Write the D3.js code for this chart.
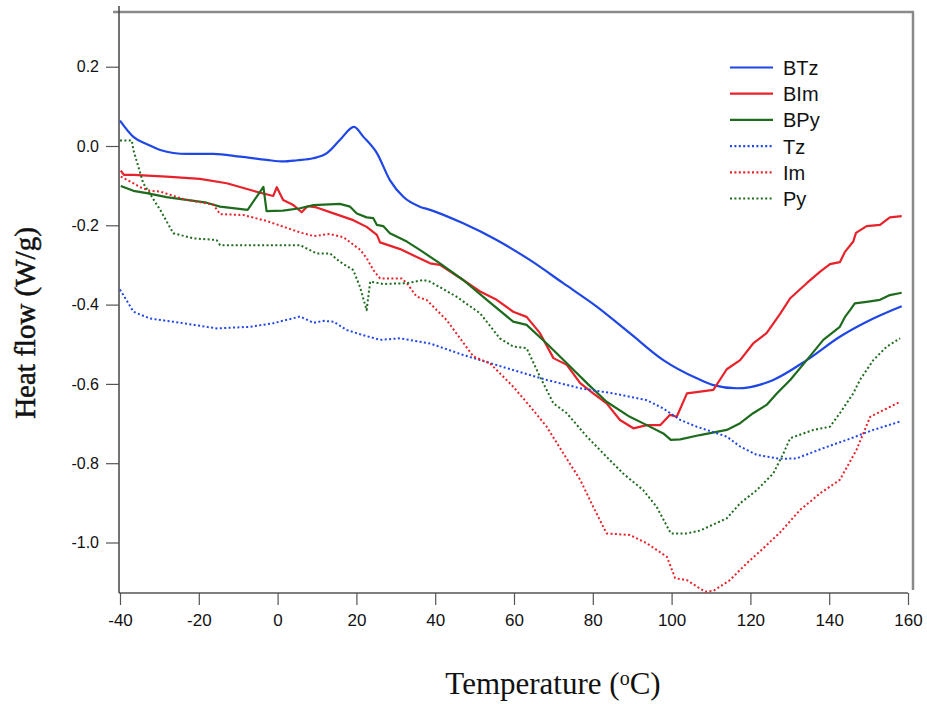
<!DOCTYPE html>
<html>
<head>
<meta charset="utf-8">
<script src="https://cdn.jsdelivr.net/npm/d3@7"></script>
<style>
  html, body { margin: 0; padding: 0; background: #fff; }
  svg { display: block; }
</style>
</head>
<body>
<svg id="chart" width="927" height="704"></svg>
<script>
// DSC heat-flow traces: temperature (°C) and heat flow (W/g)

const xTicks = [-40, -20, 0, 20, 40, 60, 80, 100, 120, 140, 160];
const yTicks = [0.2, 0.0, -0.2, -0.4, -0.6, -0.8, -1.0];

const seriesNames = ["BTz", "BIm", "BPy", "Tz", "Im", "Py"];

const BTz = [
  [-40, 0.064], [-36.6, 0.023], [-33, 0.004], [-29.8, -0.010], [-23.1, -0.020], [-16.3, -0.020],
  [-9.5, -0.027], [-2.8, -0.035], [1.4, -0.039], [5, -0.036], [9.0, -0.031], [12.5, -0.018],
  [15.8, 0.015], [19.4, 0.048], [21.8, 0.023], [25.2, -0.018], [28.5, -0.086], [31.9, -0.128],
  [36.1, -0.153], [38.7, -0.161], [47.1, -0.195], [55.6, -0.237], [64.1, -0.288], [72.5, -0.346],
  [81.0, -0.405], [89.4, -0.472], [97.9, -0.540], [106.4, -0.586], [110.6, -0.603], [116.5, -0.611],
  [120, -0.608], [125.8, -0.590], [134.3, -0.540], [142.7, -0.481], [151.2, -0.435], [158.4, -0.404]
];

const BIm = [
  [-39.8, -0.062], [-39, -0.073], [-36.6, -0.073], [-28.2, -0.077], [-19.7, -0.083], [-12.9, -0.094],
  [-6.2, -0.113], [-1.1, -0.126], [-0.2, -0.104], [1.4, -0.136], [4.0, -0.149], [6.1, -0.167],
  [7.6, -0.152], [9.9, -0.155], [14.2, -0.170], [19.2, -0.187], [22.6, -0.204], [25.2, -0.224],
  [26.0, -0.243], [31.1, -0.260], [38.7, -0.296], [41.2, -0.300], [47.1, -0.338], [51.4, -0.367],
  [55.6, -0.388], [59.8, -0.418], [63.2, -0.431], [66.6, -0.472], [70.0, -0.535], [73.4, -0.552],
  [76.8, -0.598], [80.1, -0.624], [83.5, -0.649], [86.9, -0.691], [90.3, -0.712], [93.7, -0.704],
  [97.1, -0.704], [99.6, -0.678], [101.3, -0.683], [103.9, -0.624], [110.6, -0.615], [114.0, -0.563],
  [117.4, -0.540], [120.7, -0.498], [124.1, -0.472], [127.5, -0.424], [130.1, -0.384], [134.3, -0.346],
  [137.7, -0.317], [140.2, -0.298], [142.7, -0.293], [144.0, -0.267], [146.1, -0.241], [146.8, -0.219],
  [149.5, -0.202], [152.9, -0.199], [155.4, -0.180], [158.4, -0.177]
];

const BPy = [
  [-39.8, -0.101], [-36.6, -0.113], [-33.2, -0.119], [-28.2, -0.129], [-23.1, -0.136], [-18.0, -0.143],
  [-14.6, -0.153], [-7.6, -0.161], [-3.6, -0.103], [-2.8, -0.164], [1.4, -0.163], [5.7, -0.157],
  [9.1, -0.149], [15.8, -0.146], [18.4, -0.153], [20.1, -0.170], [22.6, -0.180], [24.3, -0.182],
  [25.2, -0.199], [26.8, -0.202], [28.5, -0.220], [32.8, -0.241], [36.1, -0.262], [41.2, -0.296],
  [47.1, -0.338], [53.1, -0.388], [59.8, -0.443], [63.2, -0.451], [68.3, -0.498], [73.4, -0.548],
  [78.5, -0.598], [83.5, -0.645], [89.4, -0.683], [93.7, -0.704], [97.9, -0.725], [99.8, -0.741],
  [102.2, -0.740], [107.2, -0.729], [114.0, -0.716], [117.4, -0.699], [120.7, -0.674], [124.1, -0.653],
  [126.7, -0.624], [130.1, -0.590], [134.3, -0.540], [138.5, -0.489], [142.7, -0.456], [144.0, -0.431],
  [145.3, -0.414], [146.5, -0.397], [149.5, -0.393], [152.9, -0.388], [155.4, -0.376], [158.4, -0.370]
];

const Tz = [
  [-40, -0.362], [-36.6, -0.418], [-32.4, -0.435], [-23.9, -0.447], [-15.5, -0.460], [-7.0, -0.456],
  [-1.1, -0.447], [5.7, -0.430], [9.1, -0.446], [11.6, -0.441], [14.2, -0.443], [17.5, -0.464],
  [21, -0.475], [26.0, -0.489], [31.1, -0.485], [38.7, -0.498], [47.1, -0.527], [51.4, -0.540],
  [59.8, -0.565], [68.3, -0.590], [76.8, -0.611], [85.2, -0.624], [93.7, -0.641], [97.9, -0.662],
  [102.2, -0.691], [106.4, -0.708], [114.0, -0.733], [117.4, -0.758], [121.6, -0.779], [127.5, -0.789],
  [131.7, -0.788], [138.5, -0.762], [144.5, -0.741], [151.2, -0.716], [158.0, -0.695]
];

const Im = [
  [-39.8, -0.077], [-36.6, -0.094], [-34.9, -0.104], [-32.4, -0.113], [-29.8, -0.115], [-23.9, -0.134],
  [-16.3, -0.148], [-14.6, -0.172], [-8.7, -0.174], [-2.8, -0.189], [5.7, -0.218], [9.1, -0.227],
  [13.3, -0.222], [16.7, -0.230], [21, -0.262], [22.6, -0.283], [24.3, -0.313], [26.0, -0.334],
  [31.5, -0.334], [32.8, -0.346], [35.3, -0.380], [37.8, -0.388], [42.9, -0.439], [49.7, -0.531],
  [53.9, -0.548], [59.8, -0.607], [64.1, -0.657], [68.3, -0.708], [72.5, -0.775], [76.8, -0.842],
  [80.1, -0.910], [83.5, -0.977], [89.4, -0.981], [93.7, -1.002], [98.8, -1.036], [100.9, -1.090],
  [103.9, -1.095], [106.4, -1.111], [108.5, -1.124], [110.6, -1.122], [114.8, -1.095], [119.1, -1.052],
  [122.8, -1.019], [127.5, -0.975], [132.6, -0.918], [137.7, -0.876], [142.7, -0.842], [146.9, -0.767],
  [150.4, -0.683], [154.6, -0.662], [158.0, -0.645]
];

const Py = [
  [-40, 0.014], [-37.0, 0.014], [-36.6, -0.010], [-34.1, -0.094], [-29.8, -0.161], [-26.5, -0.220],
  [-21.4, -0.233], [-15.5, -0.237], [-14.6, -0.250], [-7.0, -0.250], [5.7, -0.250], [9.9, -0.271],
  [13.3, -0.271], [15.8, -0.292], [19.2, -0.313], [20.9, -0.355], [22.6, -0.414], [23.5, -0.342],
  [26.8, -0.348], [32.8, -0.346], [37.0, -0.338], [38.7, -0.342], [45.4, -0.380], [51.4, -0.422],
  [56.4, -0.485], [59.8, -0.506], [63.2, -0.510], [66.6, -0.582], [70.0, -0.649], [73.4, -0.674],
  [78.5, -0.733], [83.5, -0.784], [87.7, -0.826], [92.8, -0.868], [96.2, -0.910], [99.8, -0.977],
  [103.9, -0.977], [107.2, -0.970], [114.0, -0.939], [117.4, -0.901], [121.6, -0.868], [125.8, -0.826],
  [128.4, -0.775], [130.1, -0.737], [136.0, -0.716], [140.2, -0.708], [142.7, -0.674], [146.1, -0.624],
  [147.8, -0.590], [151.2, -0.540], [154.6, -0.506], [158.0, -0.485]
];

const seriesData = [BTz, BIm, BPy, Tz, Im, Py];
const seriesColors = ["#1f47e6", "#e8222a", "#1e6b1e", "#1f47e6", "#e8222a", "#1e6b1e"];
const seriesDotted = [false, false, false, true, true, true];

const svg = d3.select("#chart");

const x = d3.scaleLinear().domain([-40, 160]).range([120, 908]);
const y = d3.scaleLinear().domain([0, -1]).range([146, 542.5]);

const plotTop = 12, plotBottom = 593, plotLeft = 119, plotRight = 913;

// tick labels use a plain hyphen-minus
const fmtX = d => String(d);
const fmtY = d => d3.format(".1f")(d).replace("\u2212", "-");

// frame: top and right borders
svg.append("line")
  .attr("x1", 113).attr("x2", plotRight + 1)
  .attr("y1", plotTop).attr("y2", plotTop)
  .attr("stroke", "#8a8a8a").attr("stroke-width", 2.5);
svg.append("line")
  .attr("x1", plotRight).attr("x2", plotRight)
  .attr("y1", plotTop).attr("y2", plotBottom - 3)
  .attr("stroke", "#8a8a8a").attr("stroke-width", 2.5);

// x axis
const xAxis = svg.append("g")
  .attr("transform", `translate(0,${plotBottom})`)
  .call(d3.axisBottom(x).tickValues(xTicks).tickFormat(fmtX).tickSize(12).tickPadding(9));
xAxis.select(".domain").attr("d", `M${plotLeft},0H${x(160)}`).attr("stroke", "#555").attr("stroke-width", 1.5);
xAxis.selectAll(".tick line").attr("stroke", "#555").attr("stroke-width", 1.2);
xAxis.selectAll(".tick text")
  .attr("font-family", "Liberation Sans, Arial, sans-serif")
  .attr("font-size", 17).attr("fill", "#111");

// y axis
const yAxis = svg.append("g")
  .attr("transform", `translate(${plotLeft},0)`)
  .call(d3.axisLeft(y).tickValues(yTicks).tickFormat(fmtY).tickSize(13).tickPadding(7));
yAxis.select(".domain").attr("d", `M0,6V${plotBottom}`).attr("stroke", "#444").attr("stroke-width", 1.5);
yAxis.selectAll(".tick line").attr("stroke", "#555").attr("stroke-width", 1.2);
yAxis.selectAll(".tick text")
  .attr("font-family", "Liberation Sans, Arial, sans-serif")
  .attr("font-size", 16).attr("fill", "#111");

// curves
const lineLinear = d3.line().x(d => x(d[0])).y(d => y(d[1]));
const lineSmooth = d3.line().x(d => x(d[0])).y(d => y(d[1])).curve(d3.curveMonotoneX);

seriesData.forEach((data, i) => {
  svg.append("path")
    .datum(data)
    .attr("d", i === 0 ? lineSmooth : lineLinear)
    .attr("fill", "none")
    .attr("stroke", seriesColors[i])
    .attr("stroke-width", seriesDotted[i] ? 2 : 2.2)
    .attr("stroke-linejoin", "round")
    .attr("stroke-dasharray", seriesDotted[i] ? "2,2.4" : null);
});

// legend
const legend = svg.append("g");
seriesNames.forEach((name, i) => {
  const ly = 67.5 + i * 26.2;
  legend.append("line")
    .attr("x1", 730).attr("x2", 773)
    .attr("y1", ly).attr("y2", ly)
    .attr("stroke", seriesColors[i])
    .attr("stroke-width", 2.2)
    .attr("stroke-dasharray", seriesDotted[i] ? "2,2.4" : null);
  legend.append("text")
    .attr("x", 783).attr("y", ly + 7.5)
    .attr("font-family", "Liberation Sans, Arial, sans-serif")
    .attr("font-size", 20).attr("fill", "#111")
    .text(name);
});

// axis titles
svg.append("text")
  .attr("transform", "translate(35,323) rotate(-90)")
  .attr("text-anchor", "middle")
  .attr("font-family", "Liberation Serif, Times New Roman, serif")
  .attr("font-size", 29).attr("fill", "#111")
  .attr("stroke", "#111").attr("stroke-width", 0.5)
  .text("Heat flow (W/g)");

const xt = svg.append("text")
  .attr("x", 553).attr("y", 694)
  .attr("text-anchor", "middle")
  .attr("font-family", "Liberation Serif, Times New Roman, serif")
  .attr("font-size", 31).attr("fill", "#111");
xt.append("tspan").text("Temperature (");
xt.append("tspan").attr("font-size", 20).attr("dy", -9).text("o");
xt.append("tspan").attr("dy", 9).text("C)");
</script>
</body>
</html>
